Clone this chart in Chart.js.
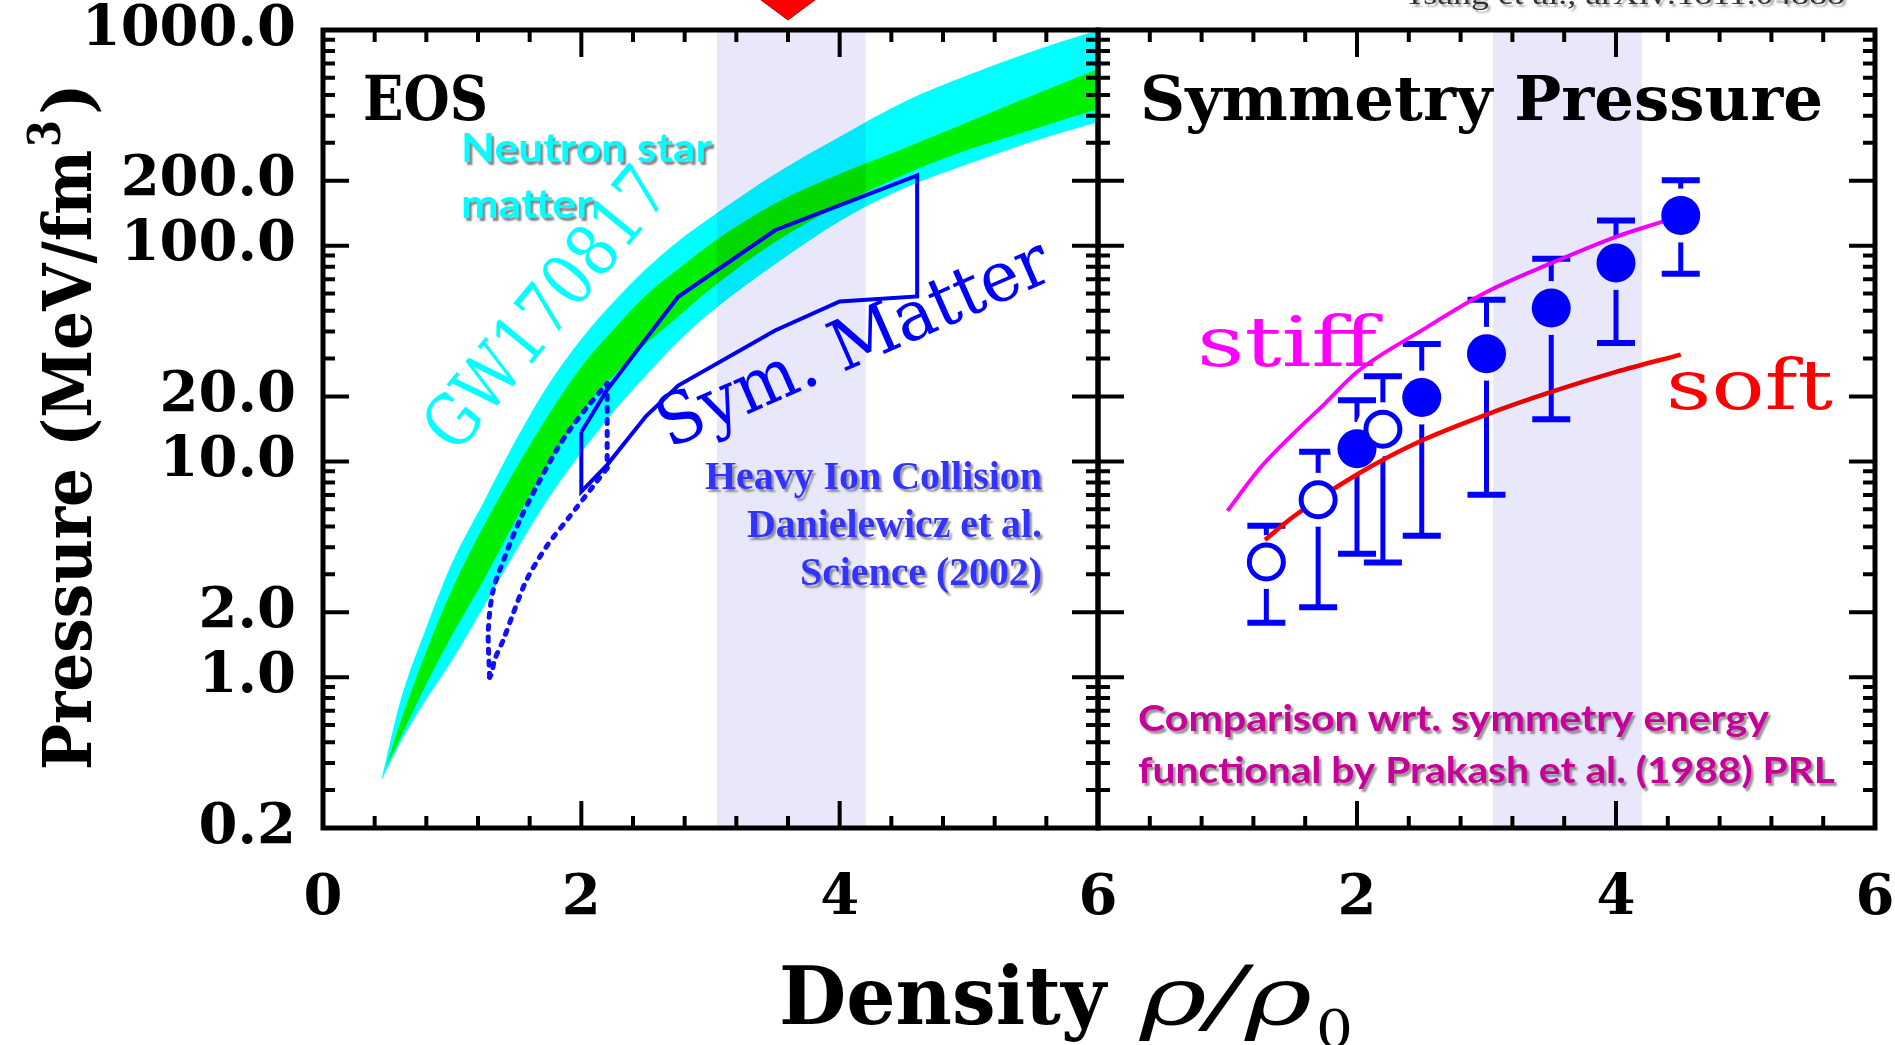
<!DOCTYPE html>
<html><head><meta charset="utf-8">
<script src="https://cdn.jsdelivr.net/npm/chart.js@4.4.1/dist/chart.umd.min.js"></script>
<style>
html,body{margin:0;padding:0;background:#fff;overflow:hidden;width:1895px;height:1045px;}
#wrap{position:relative;width:1895px;height:1045px;overflow:hidden;}
canvas{position:absolute;left:0;top:0;}
</style></head><body>
<div id="wrap">
<canvas id="cA" width="1895" height="1045" style="width:1895px;height:1045px"></canvas>
<canvas id="cB" width="1995" height="1045" style="width:1995px;height:1045px"></canvas>
</div>
<script>
// ---------------- data (density rho/rho0, pressure MeV/fm^3) ----------------
const xMajorTicks = [0, 2, 4, 6];
const xMinorTicks = [0.4, 0.8, 1.2, 1.6, 2.4, 2.8, 3.2, 3.6, 4.4, 4.8, 5.2, 5.6];
const yTickValues = [0.2, 1, 2, 10, 20, 100, 200, 1000];
const yMinorTicks = [0.3, 0.4, 0.5, 0.6, 0.7, 0.8, 0.9, 3, 4, 5, 6, 7, 8, 9,
                     30, 40, 50, 60, 70, 80, 90, 300, 400, 500, 600, 700, 800, 900];
const bandRange = [3.05, 4.2];
const markerRho = 3.6;

// GW170817 band (cyan)
const cyanRho  = [0.45, 0.6, 0.8, 1.0, 1.25, 1.5, 1.75, 2.0, 2.25, 2.5, 2.75, 3.0, 3.5, 4.0, 4.5, 5.0, 5.5, 6.0];
const cyanHigh = [0.33, 0.78, 1.7, 3.4, 6.6, 12.8, 23, 37, 55, 78, 105, 135, 215, 320, 465, 620, 800, 1000];
const cyanLow  = [0.33, 0.50, 0.79, 1.2, 2.15, 3.9, 6.8, 11, 17, 25, 36, 49, 82, 130, 185, 240, 305, 375];
// Neutron star matter band (green)
const greenRho  = [0.49, 0.6, 0.8, 1.0, 1.25, 1.5, 1.75, 2.0, 2.25, 2.5, 2.75, 3.0, 3.5, 4.0, 4.5, 5.0, 5.5, 6.0];
const greenHigh = [0.385, 0.62, 1.32, 2.56, 5.1, 9.4, 16.6, 27.5, 41, 59, 78, 102, 157, 215, 283, 376, 500, 660];
const greenLow  = [0.385, 0.526, 0.93, 1.57, 2.87, 5.45, 9.8, 16.8, 25, 35, 47, 63, 104, 154, 214, 279, 347, 430];
// Heavy-ion symmetric matter region (closed polygon)
const polyRho = [2.0, 2.2, 2.5, 2.75, 3.5, 4.6, 4.6, 4.0, 3.5, 2.75, 2.5, 2.2, 2.0, 2.0];
const polyP   = [13.7, 21.5, 37, 58, 118, 212, 58.2, 55.2, 40.5, 22.5, 16.2, 9.65, 7.25, 13.7];
// dotted extension
const dashLeftRho  = [1.29, 1.28, 1.318, 1.409, 1.525, 1.654, 1.809, 1.91, 2.05, 2.2];
const dashLeftP    = [1.0, 1.66, 2.54, 3.63, 5.37, 7.66, 11.3, 14.0, 18.0, 23.0];
const dashVertRho  = [2.2, 2.2];
const dashVertP    = [23.0, 9.3];
const dashRightRho = [2.2, 2.09, 1.91, 1.731, 1.577, 1.473, 1.396, 1.328, 1.306, 1.29];
const dashRightP   = [9.3, 7.66, 5.56, 4.04, 2.83, 1.98, 1.49, 1.20, 1.04, 1.0];

// Right panel: symmetry pressure
const symRho  = [1.3, 1.7, 2.0, 2.2, 2.5, 3.0, 3.5, 4.0, 4.5];
const symP    = [3.42, 6.64, 11.45, 14.1, 19.8, 31.6, 51.4, 83.1, 138];
const symHi   = [5.03, 11.1, 19.2, 24.8, 35.0, 56.2, 87.1, 131, 201];
const symLo   = [1.79, 2.11, 3.73, 3.40, 4.52, 7.01, 15.7, 35.4, 74.1];
const symOpen = [true, true, false, true, false, false, false, false, false];
const stiffRho = [1.0, 1.25, 1.5, 1.75, 2.0, 2.5, 3.0, 3.5, 4.0, 4.37];
const stiffP   = [5.9, 9.3, 13.3, 18.5, 26, 40.5, 61, 83, 110, 130];
const softRho  = [1.29, 1.5, 2.0, 2.5, 3.0, 3.5, 4.0, 4.5];
const softP    = [4.33, 5.5, 8.7, 12.5, 16.5, 21, 26, 31.3];

// ---------------- helpers ----------------
const SERIF = '"DejaVu Serif"';
const pts = (xs, ys) => xs.map((v, i) => ({x: v, y: ys[i]}));

function fitText(ctx, txt, x, y, w, font, color, opt) {
  opt = opt || {};
  ctx.save();
  ctx.font = font;
  const m = ctx.measureText(txt).width;
  ctx.translate(x, y);
  if (opt.angle) ctx.rotate(opt.angle);
  ctx.scale(w / m, 1);
  ctx.textAlign = opt.align || 'left';
  ctx.textBaseline = opt.baseline || 'alphabetic';
  if (opt.shadow) {
    ctx.shadowColor = opt.shadow; ctx.shadowOffsetX = 2.5; ctx.shadowOffsetY = 2.5; ctx.shadowBlur = 2;
  }
  ctx.fillStyle = color;
  ctx.fillText(txt, 0, 0);
  ctx.restore();
}

function shadeBand(chart) {
  const {ctx, chartArea: a, scales: {x}} = chart;
  const x0 = x.getPixelForValue(bandRange[0]), x1 = x.getPixelForValue(bandRange[1]);
  ctx.save();
  ctx.globalCompositeOperation = 'multiply';
  ctx.fillStyle = '#e8e8fa';
  ctx.fillRect(x0, a.top, x1 - x0, a.bottom - a.top);
  ctx.restore();
}

function drawFrame(chart) {
  const {ctx, chartArea: a, scales: {x, y}} = chart;
  ctx.save();
  ctx.strokeStyle = '#000';
  ctx.lineCap = 'butt';
  ctx.lineWidth = 4;
  ctx.beginPath();
  const xt = (v, L) => { const p = x.getPixelForValue(v);
    ctx.moveTo(p, a.bottom); ctx.lineTo(p, a.bottom - L);
    ctx.moveTo(p, a.top); ctx.lineTo(p, a.top + L); };
  xMajorTicks.forEach(v => xt(v, 27));
  xMinorTicks.forEach(v => xt(v, 12));
  const yt = (v, L) => { const p = y.getPixelForValue(v);
    ctx.moveTo(a.left, p); ctx.lineTo(a.left + L, p);
    ctx.moveTo(a.right, p); ctx.lineTo(a.right - L, p); };
  yTickValues.forEach(v => yt(v, 26));
  yMinorTicks.forEach(v => yt(v, 12));
  ctx.stroke();
  ctx.lineWidth = 5;
  ctx.strokeRect(a.left, a.top, a.right - a.left, a.bottom - a.top);
  ctx.restore();
}

function hiddenAxis(type, pos, size, extra) {
  const o = Object.assign({
    type: type, position: pos, display: true,
    ticks: {display: false}, grid: {display: false, drawTicks: false, tickLength: 0},
    border: {display: false},
    afterFit(s) { if (pos === 'top' || pos === 'bottom') s.height = size; else s.width = size; }
  }, extra || {});
  return o;
}

function yAxis(showLabels, width) {
  return {
    type: 'logarithmic', position: 'left', min: 0.2, max: 1000,
    afterBuildTicks(s) { s.ticks = yTickValues.map(v => ({value: v})); },
    ticks: {display: showLabels, autoSkip: false, padding: 27, color: '#000',
            font: {family: SERIF, size: 56, weight: 'bold', lineHeight: 0.05},
            callback: (v) => Number(v).toFixed(1)},
    grid: {display: false, drawTicks: false, tickLength: 0},
    border: {display: false},
    afterFit(s) { s.width = width; }
  };
}

function xAxis(skipZero) {
  return {
    type: 'linear', position: 'bottom', min: 0, max: 6,
    afterBuildTicks(s) { s.ticks = xMajorTicks.map(v => ({value: v})); },
    ticks: {autoSkip: false, maxRotation: 0, padding: 38, color: '#000',
            font: {family: SERIF, size: 56, weight: 'bold'},
            callback: (v) => (skipZero && v === 0) ? '' : String(v)},
    grid: {display: false, drawTicks: false, tickLength: 0},
    border: {display: false},
    afterFit(s) { s.height = 217; }
  };
}

const common = {
  responsive: false, animation: false, devicePixelRatio: 1,
  layout: {padding: 0},
  plugins: {legend: {display: false}, tooltip: {enabled: false}},
  elements: {point: {radius: 0}}
};

// ---------------- left chart ----------------
const plugA = {
  id: 'plugA',
  afterDatasetsDraw(chart) { shadeBand(chart); },
  afterDraw(chart) {
    const {ctx, chartArea: a, scales: {x}} = chart;
    drawFrame(chart);
    // red marker
    const tx = x.getPixelForValue(markerRho);
    ctx.save();
    ctx.beginPath(); ctx.moveTo(tx - 31, -3); ctx.lineTo(tx + 31, -3); ctx.lineTo(tx, a.top - 10); ctx.closePath();
    ctx.fillStyle = '#ff0000'; ctx.fill(); ctx.strokeStyle = '#b30000'; ctx.lineWidth = 1; ctx.stroke();
    ctx.restore();
    fitText(ctx, 'EOS', 363, 120, 125, 'bold 62px ' + SERIF, '#000');
    fitText(ctx, 'Neutron star', 461, 162, 251, 'bold 40px Lato', '#00ffff', {shadow: 'rgba(90,90,90,0.75)'});
    fitText(ctx, 'matter', 461, 218, 132, 'bold 40px Lato', '#00ffff', {shadow: 'rgba(90,90,90,0.75)'});
    fitText(ctx, 'GW170817', 550, 312, 340, '72px ' + SERIF, '#00ffff',
            {angle: -50.6 * Math.PI / 180, align: 'center', baseline: 'middle'});
    fitText(ctx, 'Sym. Matter', 855, 347, 422, '70px ' + SERIF, '#0000ff',
            {angle: -23.8 * Math.PI / 180, align: 'center', baseline: 'middle'});
    const hb = 'bold 41px "Liberation Serif"', hc = '#3333ff', hs = 'rgba(80,80,80,0.6)';
    fitText(ctx, 'Heavy Ion Collision', 1042, 489, 337, hb, hc, {align: 'right', shadow: hs});
    fitText(ctx, 'Danielewicz et al.', 1042, 537, 295, hb, hc, {align: 'right', shadow: hs});
    fitText(ctx, 'Science (2002)', 1042, 585, 242, hb, hc, {align: 'right', shadow: hs});
    // y title
    ctx.save();
    ctx.translate(91, 770); ctx.rotate(-Math.PI / 2);
    fitText(ctx, 'Pressure (MeV/fm', 0, 0, 620, 'bold 68px ' + SERIF, '#000');
    fitText(ctx, '3', 623, -31, 27, 'bold 44px ' + SERIF, '#000');
    fitText(ctx, ')', 655, 0, 32, 'bold 68px ' + SERIF, '#000');
    ctx.restore();
    // x title
    fitText(ctx, 'Density', 779, 1024, 327, 'bold 80px ' + SERIF, '#000');
    fitText(ctx, '\u03C1/\u03C1', 1140, 1024, 172, 'italic 80px ' + SERIF, '#000');
    fitText(ctx, '0', 1316, 1047, 37, '52px ' + SERIF, '#000');
  }
};

new Chart(document.getElementById('cA'), {
  type: 'line',
  data: {datasets: [
    {data: pts(greenRho, greenHigh), borderWidth: 0, pointRadius: 0, fill: false, order: 1,
     cubicInterpolationMode: 'monotone', borderColor: 'rgba(0,0,0,0)'},
    {data: pts(greenRho, greenLow), borderWidth: 0, pointRadius: 0, fill: '-1', order: 1,
     backgroundColor: '#00ee00', cubicInterpolationMode: 'monotone', borderColor: 'rgba(0,0,0,0)'},
    {data: pts(cyanRho, cyanHigh), borderWidth: 0, pointRadius: 0, fill: false, order: 2,
     cubicInterpolationMode: 'monotone', borderColor: 'rgba(0,0,0,0)'},
    {data: pts(cyanRho, cyanLow), borderWidth: 0, pointRadius: 0, fill: '-1', order: 2,
     backgroundColor: '#00ffff', cubicInterpolationMode: 'monotone', borderColor: 'rgba(0,0,0,0)'},
    {data: pts(polyRho, polyP), borderColor: '#0000f0', borderWidth: 4, pointRadius: 0, fill: false,
     order: 0, tension: 0, borderJoinStyle: 'miter'},
    {data: pts(dashLeftRho, dashLeftP), borderColor: '#1010ff', borderWidth: 5, pointRadius: 0, fill: false,
     order: 0, tension: 0.3, borderDash: [4, 8], borderCapStyle: 'round'},
    {data: pts(dashVertRho, dashVertP), borderColor: '#1010ff', borderWidth: 5, pointRadius: 0, fill: false,
     order: 0, tension: 0, borderDash: [4, 8], borderCapStyle: 'round'},
    {data: pts(dashRightRho, dashRightP), borderColor: '#1010ff', borderWidth: 5, pointRadius: 0, fill: false,
     order: 0, tension: 0.3, borderDash: [4, 8], borderCapStyle: 'round'}
  ]},
  options: Object.assign({}, common, {
    scales: {
      x: xAxis(false),
      xTop: hiddenAxis('linear', 'top', 30, {min: 0, max: 6}),
      y: yAxis(true, 323),
      yRight: hiddenAxis('logarithmic', 'right', 797, {min: 0.2, max: 1000})
    }
  }),
  plugins: [plugA]
});

// ---------------- right chart ----------------
const plugB = {
  id: 'plugB',
  beforeDatasetsDraw(chart) {
    const {ctx, scales: {x, y}} = chart;
    ctx.save();
    ctx.strokeStyle = '#0000ff';
    symRho.forEach((r, i) => {
      const px = x.getPixelForValue(r), pl = y.getPixelForValue(symLo[i]), ph = y.getPixelForValue(symHi[i]);
      ctx.lineWidth = 5; ctx.beginPath(); ctx.moveTo(px, pl); ctx.lineTo(px, ph); ctx.stroke();
      ctx.lineWidth = 6; ctx.beginPath();
      ctx.moveTo(px - 19, pl); ctx.lineTo(px + 19, pl);
      ctx.moveTo(px - 19, ph); ctx.lineTo(px + 19, ph); ctx.stroke();
    });
    ctx.restore();
  },
  afterDatasetsDraw(chart) { shadeBand(chart); },
  afterDraw(chart) {
    const {ctx} = chart;
    drawFrame(chart);
    fitText(ctx, 'Symmetry Pressure', 1140, 120, 683, 'bold 62px ' + SERIF, '#000');
    fitText(ctx, 'stiff', 1197, 366, 180, '70px ' + SERIF, '#ff00ff');
    fitText(ctx, 'soft', 1666, 409, 167, '70px ' + SERIF, '#ff0000');
    const cf = 'bold 37px Lato', cc = '#c8009a', cs = 'rgba(80,80,80,0.6)';
    fitText(ctx, 'Comparison wrt. symmetry energy', 1138, 731, 631, cf, cc, {shadow: cs});
    fitText(ctx, 'functional by Prakash et al. (1988) PRL', 1138, 783, 697, cf, cc, {shadow: cs});
    fitText(ctx, 'Tsang et al., arXiv:1811.04888', 1845, 4, 441, '30px "Liberation Serif"', '#333',
            {align: 'right', shadow: 'rgba(120,120,120,0.6)'});
  }
};

const openIdx = symRho.map((r, i) => i).filter(i => symOpen[i]);
const fullIdx = symRho.map((r, i) => i).filter(i => !symOpen[i]);

new Chart(document.getElementById('cB'), {
  type: 'line',
  data: {datasets: [
    {data: openIdx.map(i => ({x: symRho[i], y: symP[i]})), showLine: false, order: 0,
     pointRadius: 17, pointBackgroundColor: '#ffffff', pointBorderColor: '#0000ff', pointBorderWidth: 5},
    {data: fullIdx.map(i => ({x: symRho[i], y: symP[i]})), showLine: false, order: 0,
     pointRadius: 19.5, pointBackgroundColor: '#0000ff', pointBorderWidth: 0},
    {data: pts(stiffRho, stiffP), borderColor: '#ff00ff', borderWidth: 4, pointRadius: 0, fill: false,
     order: 1, cubicInterpolationMode: 'monotone'},
    {data: pts(softRho, softP), borderColor: '#ff0000', borderWidth: 4.5, pointRadius: 0, fill: false,
     order: 1, cubicInterpolationMode: 'monotone'},
    {data: pts(symRho, symP), showLine: false, order: 2,
     pointRadius: 27, pointBackgroundColor: '#ffffff', pointBorderWidth: 0}
  ]},
  options: Object.assign({}, common, {
    scales: {
      x: xAxis(true),
      xTop: hiddenAxis('linear', 'top', 30, {min: 0, max: 6}),
      y: yAxis(false, 1098),
      yRight: hiddenAxis('logarithmic', 'right', 120, {min: 0.2, max: 1000})
    }
  }),
  plugins: [plugB]
});
</script>
</body></html>
